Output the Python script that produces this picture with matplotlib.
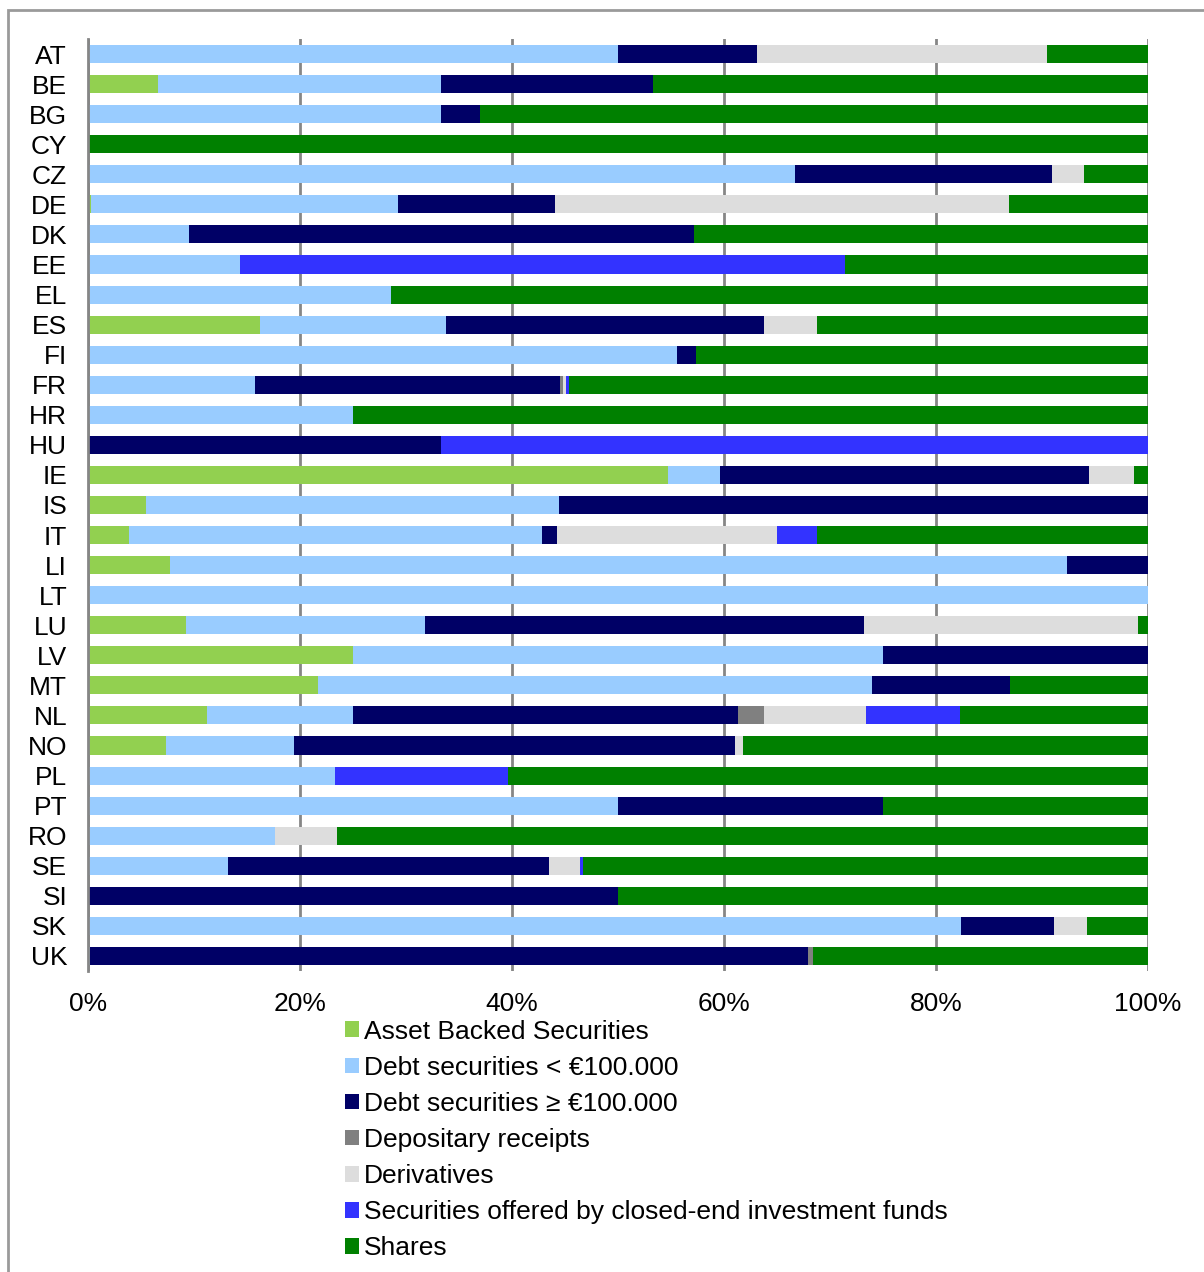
import numpy as np
import matplotlib.pyplot as plt
from matplotlib.patches import Rectangle

plt.rcParams['font.family'] = ['Liberation Sans', 'DejaVu Sans']

countries = ["AT", "BE", "BG", "CY", "CZ", "DE", "DK", "EE", "EL", "ES", "FI", "FR",
             "HR", "HU", "IE", "IS", "IT", "LI", "LT", "LU", "LV", "MT", "NL", "NO",
             "PL", "PT", "RO", "SE", "SI", "SK", "UK"]

# share of each security type, % of approvals per country
abs_sec = [0, 6.6, 0, 0, 0, 0.3, 0, 0, 0, 16.2, 0, 0,
           0, 0, 54.7, 5.5, 3.9, 7.7, 0, 9.2, 25.0, 21.7, 11.2, 7.4,
           0, 0, 0, 0, 0, 0, 0]
debt_small = [50.0, 26.7, 33.3, 0, 66.7, 28.9, 9.5, 14.3, 28.6, 17.6, 55.6, 15.8,
              25.0, 0, 4.9, 38.9, 38.9, 84.7, 100.0, 22.6, 50.0, 52.3, 13.8, 12.0,
              23.3, 50.0, 17.6, 13.2, 0, 82.4, 0.2]
debt_large = [13.1, 20.0, 3.7, 0, 24.2, 14.9, 47.7, 0, 0, 30.0, 1.8, 28.7,
              0, 33.3, 34.8, 55.6, 1.4, 7.6, 0, 41.4, 25.0, 13.0, 36.3, 41.6,
              0, 25.0, 0, 30.3, 50.0, 8.7, 67.7]
depositary = [0, 0, 0, 0, 0, 0, 0, 0, 0, 0, 0, 0.3,
              0, 0, 0, 0, 0, 0, 0, 0, 0, 0, 2.5, 0,
              0, 0, 0, 0, 0, 0, 0.5]
derivatives = [27.4, 0, 0, 0, 3.1, 42.8, 0, 0, 0, 5.0, 0, 0.3,
               0, 0, 4.3, 0, 20.8, 0, 0, 25.9, 0, 0, 9.6, 0.8,
               0, 0, 5.9, 2.9, 0, 3.1, 0]
closed_end = [0, 0, 0, 0, 0, 0, 0, 57.1, 0, 0, 0, 0.3,
              0, 66.7, 0, 0, 3.8, 0, 0, 0, 0, 0, 8.9, 0,
              16.3, 0, 0, 0.3, 0, 0, 0]
shares = [9.5, 46.7, 63.0, 100.0, 6.0, 13.1, 42.8, 28.6, 71.4, 31.2, 42.6, 54.6,
          75.0, 0, 1.3, 0, 31.2, 0, 0, 0.9, 0, 13.0, 17.7, 38.2,
          60.4, 25.0, 76.5, 53.3, 50.0, 5.8, 31.6]

series = [
    ("Asset Backed Securities", abs_sec, "#92D050"),
    ("Debt securities < €100.000", debt_small, "#99CCFF"),
    ("Debt securities ≥ €100.000", debt_large, "#000066"),
    ("Depositary receipts", depositary, "#808080"),
    ("Derivatives", derivatives, "#DDDDDD"),
    ("Securities offered by closed-end investment funds", closed_end, "#3333FF"),
    ("Shares", shares, "#008000"),
]

fig = plt.figure(figsize=(12.04, 12.72), dpi=100)
ax = fig.add_axes([88 / 1204, 1 - 971 / 1272, 1060 / 1204, 932 / 1272])

y = np.arange(len(countries))
left = np.zeros(len(countries))
for name, vals, color in series:
    vals = np.array(vals)
    ax.barh(y, vals, left=left, height=0.6, color=color, label=name, zorder=2)
    left += vals

ax.set_xlim(0, 100)
ax.set_ylim(len(countries) - 0.5, -0.5)
ax.set_yticks(y)
ax.set_yticklabels(countries, fontsize=19)
ax.set_xticks([0, 20, 40, 60, 80, 100])
ax.set_xticklabels(["0%", "20%", "40%", "60%", "80%", "100%"], fontsize=19)
ax.tick_params(axis='y', length=0, pad=15)
ax.tick_params(axis='x', length=0, pad=15)
ax.grid(axis='x', color="#868686", linewidth=2, zorder=0)
for s in ["top", "right", "bottom"]:
    ax.spines[s].set_visible(False)
ax.spines["left"].set_color("#868686")
ax.spines["left"].set_linewidth(2)

leg = fig.legend(loc="upper left", bbox_to_anchor=(334 / 1204, 1 - 1009 / 1272),
                 frameon=False, fontsize=19, handlelength=0.53, handleheight=0.53,
                 handletextpad=0.19, labelspacing=0.46, borderaxespad=0)

# outer frame
fig.patches.append(Rectangle((8 / 1204, -0.01), 1.0, 1 - 10 / 1272 + 0.01,
                             transform=fig.transFigure, fill=False,
                             edgecolor="#9a9a9a", linewidth=2))

fig.savefig("out.png", dpi=100)
